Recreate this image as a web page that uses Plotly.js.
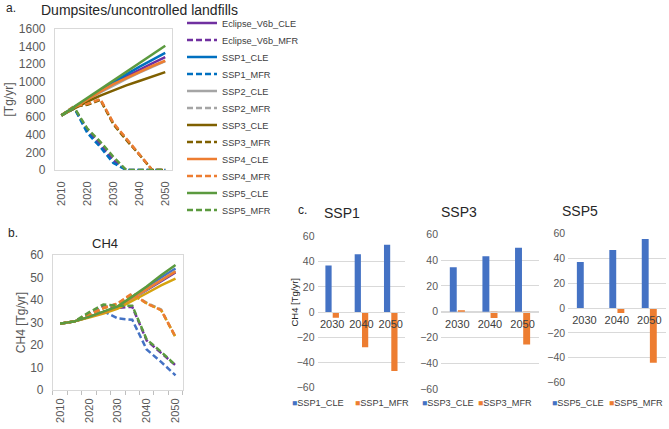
<!DOCTYPE html>
<html><head><meta charset="utf-8">
<script src="https://cdn.plot.ly/plotly-3.0.1.min.js"></script>
<style>html,body{margin:0;padding:0;background:#fff}</style>
</head><body><div id="chart" style="width:669px;height:429px"></div>
<script>
// ---------- data ----------
const years = [2010, 2015, 2020, 2025, 2030, 2035, 2040, 2045, 2050];
const tickYears = [2010, 2020, 2030, 2040, 2050];
const seriesNames = ['Eclipse_V6b_CLE','Eclipse_V6b_MFR','SSP1_CLE','SSP1_MFR','SSP2_CLE','SSP2_MFR',
                     'SSP3_CLE','SSP3_MFR','SSP4_CLE','SSP4_MFR','SSP5_CLE','SSP5_MFR'];

// Panel a: dumpsites / uncontrolled landfills [Tg/yr]
const a_eclipse_cle = [620, 715, 805, 895, 985, 1060, 1140, 1210, 1280];
const a_eclipse_mfr = [620, 702, 450, 290, 110, 0, 0, 0, 0];
const a_ssp1_cle    = [620, 715, 810, 905, 1000, 1085, 1170, 1250, 1330];
const a_ssp1_mfr    = [620, 700, 420, 260, 80, 0, 0, 0, 0];
const a_ssp2_cle    = [620, 710, 795, 880, 960, 1035, 1105, 1170, 1235];
const a_ssp2_mfr    = [620, 725, 745, 800, 530, 350, 180, 0, 0];
const a_ssp3_cle    = [620, 700, 775, 845, 905, 960, 1010, 1060, 1110];
const a_ssp3_mfr    = [620, 720, 740, 795, 520, 340, 175, 0, 0];
const a_ssp4_cle    = [620, 712, 800, 890, 975, 1045, 1115, 1180, 1240];
const a_ssp4_mfr    = [620, 725, 750, 805, 535, 355, 185, 0, 0];
const a_ssp5_cle    = [620, 720, 820, 920, 1020, 1120, 1220, 1320, 1410];
const a_ssp5_mfr    = [620, 705, 470, 320, 150, 0, 0, 0, 0];

// Panel b: CH4 [Tg/yr]
const b_eclipse_cle = [29.5, 30.5, 32.5, 34.5, 36.8, 40.5, 44.5, 48.5, 52.2];
const b_eclipse_mfr = [29.5, 30.5, 33.5, 37.0, 36.5, 37.0, 22.0, 16.5, 11.0];
const b_ssp1_cle    = [29.5, 30.5, 32.5, 34.5, 37.0, 41.0, 45.5, 50.0, 54.0];
const b_ssp1_mfr    = [29.5, 30.5, 33.0, 35.0, 31.8, 31.2, 18.0, 12.5, 6.5];
const b_ssp2_cle    = [29.5, 30.5, 32.5, 34.5, 36.8, 40.5, 44.5, 48.8, 53.0];
const b_ssp2_mfr    = [29.5, 30.5, 33.5, 36.5, 38.5, 42.5, 38.8, 35.8, 23.5];
const b_ssp3_cle    = [29.5, 30.5, 32.2, 34.0, 36.2, 39.5, 43.0, 46.5, 49.5];
const b_ssp3_mfr    = [29.5, 30.5, 33.3, 36.3, 38.3, 42.5, 38.5, 35.5, 23.5];
const b_ssp4_cle    = [29.5, 30.5, 32.5, 34.5, 37.0, 40.8, 44.8, 48.8, 52.6];
const b_ssp4_mfr    = [29.5, 30.5, 33.5, 36.5, 38.5, 43.0, 38.5, 35.5, 23.7];
const b_ssp5_cle    = [29.5, 30.5, 32.5, 34.7, 37.2, 41.5, 46.0, 51.0, 55.6];
const b_ssp5_mfr    = [29.5, 30.5, 34.5, 38.0, 37.5, 37.5, 22.5, 17.0, 11.0];

// Panel c: change in CH4 [Tg/yr]
const c_years    = ['2030', '2040', '2050'];
const c_ssp1_cle = [37, 46, 53.5];
const c_ssp1_mfr = [-4.5, -28, -47];
const c_ssp3_cle = [34.5, 43, 49.5];
const c_ssp3_mfr = [1, -5, -25.5];
const c_ssp5_cle = [37, 46.5, 55.5];
const c_ssp5_mfr = [0, -4, -44];

// ---------- styling ----------
const FONT = 'Liberation Sans, Arial, sans-serif';
const W = 669, H = 429;
const px = v => v / W;
const py = v => 1 - v / H;
const aColors = ['#7030A0','#7030A0','#0070C0','#0070C0','#A5A5A5','#A5A5A5',
                 '#7F6000','#7F6000','#ED7D31','#ED7D31','#5B9A3F','#5B9A3F'];
const bColors = ['#7030A0','#7030A0','#4472C4','#4472C4','#A5A5A5','#A5A5A5',
                 '#D6A30F','#D6A30F','#ED7D31','#ED7D31','#5B9A3F','#5B9A3F'];
const DASH = '6px,3px';
const aData = [a_eclipse_cle,a_eclipse_mfr,a_ssp1_cle,a_ssp1_mfr,a_ssp2_cle,a_ssp2_mfr,
               a_ssp3_cle,a_ssp3_mfr,a_ssp4_cle,a_ssp4_mfr,a_ssp5_cle,a_ssp5_mfr];
const bData = [b_eclipse_cle,b_eclipse_mfr,b_ssp1_cle,b_ssp1_mfr,b_ssp2_cle,b_ssp2_mfr,
               b_ssp3_cle,b_ssp3_mfr,b_ssp4_cle,b_ssp4_mfr,b_ssp5_cle,b_ssp5_mfr];

const traces = [];
const layout = {
  width: W, height: H, margin: {l:0, r:0, t:0, b:0},
  paper_bgcolor: '#fff', plot_bgcolor: '#fff',
  font: {family: FONT, color: '#404040'},
  showlegend: true, bargap: 0.5, bargroupgap: 0.15,
  annotations: []
};
const legId = n => n === 0 ? 'legend' : 'legend' + (n + 1);
let nLeg = 0;
function addLegend(xLeft, yMid) {
  const id = legId(nLeg++);
  layout[id] = {x: px(xLeft), y: py(yMid), xanchor: 'left', yanchor: 'middle',
    bgcolor: 'rgba(0,0,0,0)', borderwidth: 0, itemwidth: 30, tracegroupgap: 0,
    font: {family: FONT, size: 9.2, color: '#404040'}};
  return id;
}

// panel a
seriesNames.forEach((nm, i) => {
  traces.push({type: 'scatter', mode: 'lines', name: nm, x: years, y: aData[i],
    xaxis: 'x', yaxis: 'y', legend: addLegend(182, 23 + 17 * i),
    line: {color: aColors[i], width: 2.5, dash: i % 2 ? DASH : 'solid'}});
});
// panel b
seriesNames.forEach((nm, i) => {
  traces.push({type: 'scatter', mode: 'lines', name: nm, x: years, y: bData[i],
    xaxis: 'x2', yaxis: 'y2', showlegend: false,
    line: {color: bColors[i], width: 2.5, dash: i % 2 ? DASH : 'solid'}});
});
// panel c
const cPanels = [
  {ssp: 'SSP1', cle: c_ssp1_cle, mfr: c_ssp1_mfr, xa: 'x3', ya: 'y3', legX: [252, 315]},
  {ssp: 'SSP3', cle: c_ssp3_cle, mfr: c_ssp3_mfr, xa: 'x4', ya: 'y4', legX: [382, 438]},
  {ssp: 'SSP5', cle: c_ssp5_cle, mfr: c_ssp5_mfr, xa: 'x5', ya: 'y5', legX: [512, 570]}
];
cPanels.forEach(p => {
  [['_CLE', p.cle, '#4472C4'], ['_MFR', p.mfr, '#ED7D31']].forEach((s, k) => {
    traces.push({type: 'bar', name: p.ssp + s[0], x: c_years, y: s[1],
      xaxis: p.xa, yaxis: p.ya, showlegend: false, marker: {color: s[2]}});
    // legend entry styled like Excel: small square key directly before the label
    traces.push({type: 'scatter', mode: 'markers',
      name: '<span style="color:' + s[2] + ';font-size:8.5px">■</span>' + p.ssp + s[0],
      x: [null], y: [null], xaxis: p.xa, yaxis: p.ya, legend: addLegend(p.legX[k], 402),
      marker: {symbol: 'square', size: 1, color: 'rgba(0,0,0,0)', line: {width: 0}}});
  });
});

// axes
const frame = {showline: true, mirror: true, linecolor: '#d9d9d9', linewidth: 1,
  showgrid: false, zeroline: false, fixedrange: true};
layout.xaxis = Object.assign({}, frame, {domain: [px(55), px(172)], range: [2007.5, 2052.5],
  tickmode: 'array', tickvals: tickYears, ticktext: tickYears.map(String), tickangle: -90,
  ticks: '', ticklabelstandoff: 6, tickfont: {size: 11, color: '#595959'}, anchor: 'y'});
layout.yaxis = Object.assign({}, frame, {domain: [py(170), py(29)], range: [0, 1600], dtick: 200,
  ticks: '', tickfont: {size: 12, color: '#595959'}, ticklabelstandoff: 6, anchor: 'x',
  title: {text: '[Tg/yr]', font: {size: 12, color: '#595959'}, standoff: 2}});
layout.xaxis2 = Object.assign({}, frame, {domain: [px(53), px(183)], range: [2007.5, 2052.5],
  tickmode: 'array', tickvals: tickYears, ticktext: tickYears.map(String), tickangle: -90,
  ticks: '', ticklabelstandoff: 3, tickfont: {size: 11, color: '#595959'}, anchor: 'y2',
  minor: {tickmode: 'linear', tick0: 2007.5, dtick: 5, ticks: 'outside', ticklen: 4, tickcolor: '#bfbfbf', showgrid: false}});
layout.yaxis2 = Object.assign({}, frame, {domain: [py(390), py(255)], range: [0, 60], dtick: 10,
  ticks: '', tickfont: {size: 12, color: '#595959'}, ticklabelstandoff: 6, anchor: 'x2',
  title: {text: 'CH4 [Tg/yr]', font: {size: 12, color: '#595959'}, standoff: 1}});

const cDom = [
  {x: [318, 406], y: [387.3, 236.7]},
  {x: [441.7, 539.7], y: [389, 234.3]},
  {x: [569, 666.5], y: [382.7, 233.3]}
];
cDom.forEach((d, i) => {
  const n = i + 3;
  const yd = [py(d.y[0]), py(d.y[1])];
  layout['xaxis' + n] = {type: 'category', domain: [px(d.x[0]), px(d.x[1])],
    anchor: 'free', position: (yd[0] + yd[1]) / 2, showline: true, linecolor: '#d9d9d9',
    ticks: '', showgrid: false, zeroline: false, fixedrange: true, ticklabelstandoff: 2,
    tickfont: {size: 11, color: '#404040'}};
  layout['yaxis' + n] = {domain: yd, range: [-60, 60], dtick: 20, anchor: 'x' + n,
    showgrid: true, gridcolor: '#d9d9d9', zeroline: false, showline: false, ticks: '',
    fixedrange: true, tickfont: {size: 10.5, color: '#595959'}, ticklabelstandoff: 2};
});

// text labels
function ann(text, x, y, size, xanchor, angle) {
  layout.annotations.push({text: text, x: px(x), y: py(y), xref: 'paper', yref: 'paper',
    xanchor: xanchor || 'center', yanchor: 'middle', showarrow: false, textangle: angle || 0,
    font: {family: FONT, size: size, color: '#262626'}});
}
ann('a.', 4, 8, 12, 'left');
ann('Dumpsites/uncontrolled landfills', 140, 10, 14);
ann('b.', 6, 233, 12, 'left');
ann('CH4', 105, 244, 13);
ann('c.', 296, 210, 12, 'left');
ann('SSP1', 343, 213, 14);
ann('SSP3', 460, 212, 14);
ann('SSP5', 581, 211, 14);
ann('CH4 [Tg/yr]', 294, 302, 9.5, 'center', -90);

Plotly.newPlot('chart', traces, layout, {staticPlot: true, displayModeBar: false});
</script>
</body></html>
